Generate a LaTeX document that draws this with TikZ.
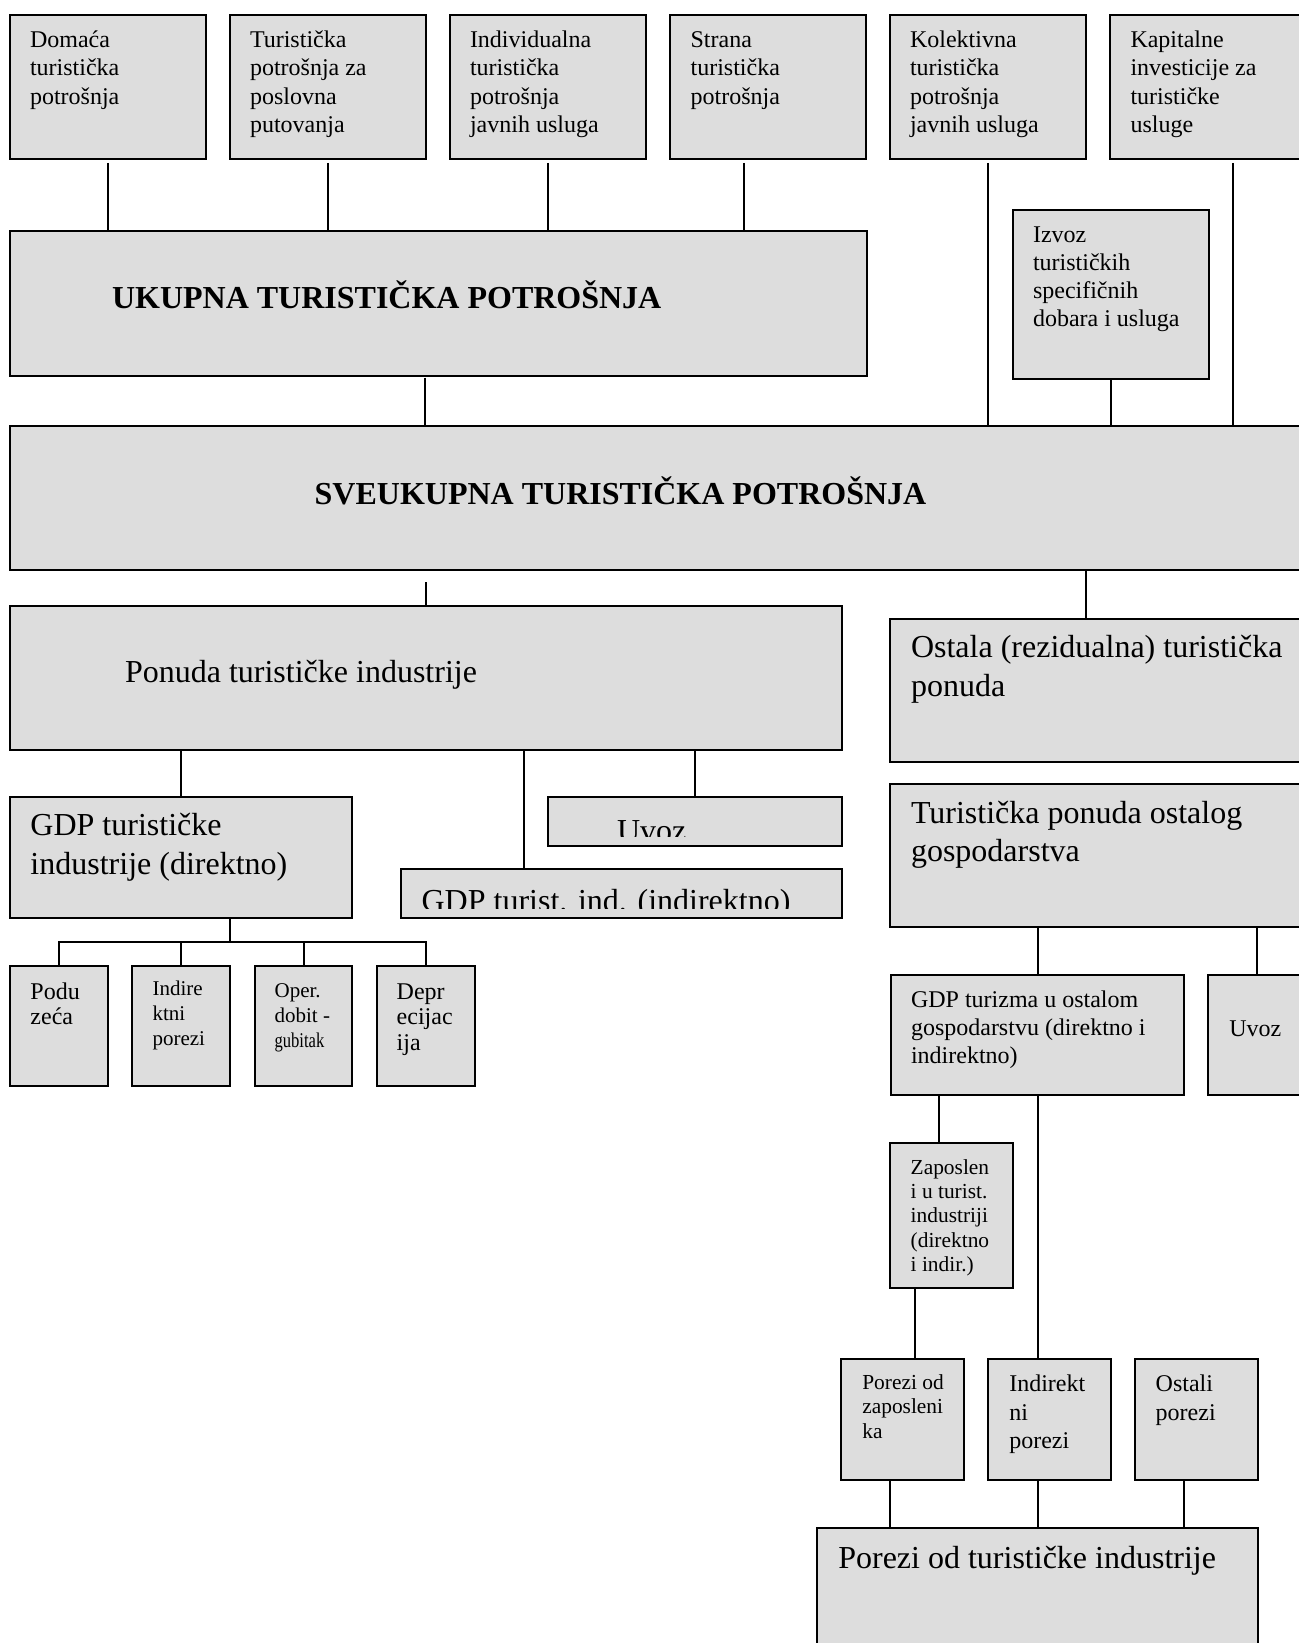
\documentclass[tikz,border=0pt]{standalone}
\usepackage{fontspec}
\setmainfont{Liberation Serif}
\usepackage{graphicx}
\usetikzlibrary{fit,calc}
\definecolor{boxgray}{RGB}{221,221,221}
\newcommand\mlines[1]{\vtop{\let\\\cr\halign{##\hfil\cr#1\crcr}}}
\newcommand\fA{\fontsize{12}{14.15}\selectfont}
\newcommand\fB{\bfseries\fontsize{16}{19}\selectfont}
\newcommand\fC{\fontsize{16}{19.3}\selectfont}
\tikzset{
  bx/.style={draw=black, line width=1pt, fill=boxgray, inner sep=0pt, outer sep=0pt},
  ln/.style={draw=black, line width=1pt},
  txt/.style={anchor=base west, inner sep=0pt, outer sep=0pt, text=black}
}
\begin{document}
\begin{tikzpicture}[x=0.5pt, y=-0.5pt]
\fill[white] (0,0) rectangle (1299,1643);
\clip (0,0) rectangle (1299,1643);
% ---------- boxes ----------
\node[bx, fit={(10,14.7) (206,159.3)}] (t1) {};
\node[bx, fit={(230,14.7) (426,159.3)}] (t2) {};
\node[bx, fit={(450,14.7) (646,159.3)}] (t3) {};
\node[bx, fit={(670,14.7) (866,159.3)}] (t4) {};
\node[bx, fit={(890,14.7) (1086,159.3)}] (t5) {};
\node[bx, fit={(1110,14.7) (1320,159.3)}] (t6) {};
\node[bx, fit={(10,230.7) (866.5,375.7)}] (uk) {};
\node[bx, fit={(1012.6,210) (1208.8,378.7)}] (iz) {};
\node[bx, fit={(10,426) (1320,570)}] (sv) {};
\node[bx, fit={(10,605.8) (841.6,749.8)}] (po) {};
\node[bx, fit={(10,797.3) (352.3,918.2)}] (gd) {};
\node[bx, fit={(548,797.3) (841.6,845.9)}] (uv) {};
\node[bx, fit={(401,869.3) (841.6,918.2)}] (gi) {};
\node[bx, fit={(10,965.7) (107.6,1085.9)}] (s1) {};
\node[bx, fit={(132,965.7) (230,1085.9)}] (s2) {};
\node[bx, fit={(254.7,965.7) (352.3,1085.9)}] (s3) {};
\node[bx, fit={(376.7,965.7) (475,1085.9)}] (s4) {};
\node[bx, fit={(890,618.6) (1320,762.3)}] (os) {};
\node[bx, fit={(890,783.5) (1320,927.4)}] (tp) {};
\node[bx, fit={(890.7,975.2) (1184.3,1095)}] (gt) {};
\node[bx, fit={(1208.3,975.2) (1320,1095)}] (uv2) {};
\node[bx, fit={(890,1143.3) (1013.3,1287.7)}] (za) {};
\node[bx, fit={(841,1359.3) (964,1480)}] (p1) {};
\node[bx, fit={(988.3,1359.3) (1111,1480)}] (p2) {};
\node[bx, fit={(1135,1359.3) (1257.7,1480)}] (p3) {};
\node[bx, fit={(817,1527.5) (1257.5,1680)}] (pt) {};
% ---------- connectors ----------
\draw[ln, shorten <=1.8pt] (t1.south) -- (t1.south |- uk.north);
\draw[ln, shorten <=1.8pt] (t2.south) -- (t2.south |- uk.north);
\draw[ln, shorten <=1.8pt] (t3.south) -- (t3.south |- uk.north);
\coordinate (c4) at ($(t4.south west)+(74,0)$);
\draw[ln, shorten <=1.8pt] (c4) -- (c4 |- uk.north);
\draw[ln, shorten <=1.8pt] (t5.south) -- (t5.south |- sv.north);
\coordinate (c6) at ($(t6.south west)+(123,0)$);
\draw[ln, shorten <=1.8pt] (c6) -- (c6 |- sv.north);
\coordinate (cu) at ($(uk.south west)+(415,0)$);
\draw[ln, shorten <=1pt] (cu) -- (cu |- sv.north);
\draw[ln] (iz.south) -- (iz.south |- sv.north);
\coordinate (cp) at ($(po.north west)+(416,0)$);
\draw[ln, shorten <=6pt] (cp |- sv.south) -- (cp);
\coordinate (co) at ($(os.north west)+(196,0)$);
\draw[ln] (co |- sv.south) -- (co);
\draw[ln] (gd.north |- po.south) -- (gd.north);
\coordinate (cgi) at ($(gi.north west)+(122.7,0)$);
\draw[ln] (cgi |- po.south) -- (cgi);
\draw[ln] (uv.north |- po.south) -- (uv.north);
\coordinate (bar) at (230,941.6);
\draw[ln] (gd.south -| bar) -- (bar);
\draw[ln] (s1.north) |- (s4.north |- bar) -- (s4.north);
\draw[ln] (s2.north) -- (s2.north |- bar);
\draw[ln] (s3.north) -- (s3.north |- bar);
\draw[ln] (gt.north |- tp.south) -- (gt.north);
\coordinate (cu2) at ($(uv2.north west)+(49,0)$);
\draw[ln] (cu2 |- tp.south) -- (cu2);
\coordinate (cz) at ($(gt.south west)+(48.6,0)$);
\draw[ln] (cz) -- (cz |- za.north);
\draw[ln] (gt.south) -- (gt.south |- p2.north);
\coordinate (cz2) at ($(za.south west)+(25,0)$);
\draw[ln] (cz2) -- (cz2 |- p1.north);
\coordinate (q1) at ($(p1.south west)+(49.3,0)$);
\draw[ln] (q1) -- (q1 |- pt.north);
\coordinate (q2) at ($(p2.south west)+(49.4,0)$);
\draw[ln] (q2) -- (q2 |- pt.north);
\coordinate (q3) at ($(p3.south west)+(49,0)$);
\draw[ln] (q3) -- (q3 |- pt.north);
% ---------- texts ----------
\node[txt] (lt1) at (30,47.7) {\fA\mlines{Domaća\\turistička\\potrošnja}};
\node[txt] (lt2) at (250,47.7) {\fA\mlines{Turistička\\potrošnja za\\poslovna\\putovanja}};
\node[txt] (lt3) at (470,47.7) {\fA\mlines{Individualna\\turistička\\potrošnja\\javnih usluga}};
\node[txt] (lt4) at (690.6,47.7) {\fA\mlines{Strana\\turistička\\potrošnja}};
\node[txt] (lt5) at (910,47.7) {\fA\mlines{Kolektivna\\turistička\\potrošnja\\javnih usluga}};
\node[txt] (lt6) at (1130.5,47.7) {\fA\mlines{Kapitalne\\investicije za\\turističke\\usluge}};
\node[txt] (liz) at (1033,242.3) {\fontsize{12}{14}\selectfont\mlines{Izvoz\\turističkih\\specifičnih\\dobara i usluga}};
\node[txt] (luk) at (112,308) {\fB UKUPNA TURISTIČKA POTROŠNJA};
\node[txt] (lsv) at (314.7,504.3) {\fB SVEUKUPNA TURISTIČKA POTROŠNJA};
\node[txt] (lpo) at (125,682.3) {\fC Ponuda turističke industrije};
\node[txt] (lgd) at (30.5,835.5) {\fC\mlines{GDP turističke\\industrije (direktno)}};
\begin{scope}
\clip (548,797.3) rectangle (841.6,836);
\node[txt] (luv) at (617,841) {\fC Uvoz};
\end{scope}
\begin{scope}
\clip (401,869.3) rectangle (841.6,908);
\node[txt] (lgi) at (421.6,911.2) {\fC GDP turist. ind. (indirektno)};
\end{scope}
\node[txt] (ls1) at (30.5,999.1) {\fontsize{12}{12.9}\selectfont\mlines{Podu\\zeća}};
\node[txt] (ls2) at (152.6,995.8) {\fontsize{10.5}{12.3}\selectfont\mlines{Indire\\ktni\\porezi}};
\node[txt] (ls3) at (274.6,997.4) {\fontsize{10.5}{12.4}\selectfont\mlines{Oper.\\dobit -\\\scalebox{0.79}[1]{gubitak}}};
\node[txt] (ls4) at (396.7,999.1) {\fontsize{12}{12.9}\selectfont\mlines{Depr\\ecijac\\ija}};
\node[txt] (los) at (911,657.6) {\fontsize{16}{19.5}\selectfont\mlines{Ostala (rezidualna) turistička\\ponuda}};
\node[txt] (ltp) at (911,823.3) {\fontsize{16}{19}\selectfont\mlines{Turistička ponuda ostalog\\gospodarstva}};
\node[txt] (lgt) at (911,1007.8) {\fontsize{12}{13.9}\selectfont\mlines{GDP turizma u ostalom\\gospodarstvu (direktno i\\indirektno)}};
\node[txt] (luv2) at (1229.3,1036.5) {\fontsize{12}{14}\selectfont Uvoz};
\node[txt] (lza) at (910.7,1174) {\fontsize{10.7}{12.2}\selectfont\mlines{Zaposlen\\i u turist.\\industriji\\(direktno\\i indir.)}};
\node[txt] (lp1) at (862.3,1389.3) {\fontsize{10.7}{12.25}\selectfont\mlines{Porezi od\\zaposleni\\ka}};
\node[txt] (lp2) at (1009.3,1391.7) {\fontsize{12}{14.15}\selectfont\mlines{Indirekt\\ni\\porezi}};
\node[txt] (lp3) at (1155.7,1391.7) {\fontsize{12}{14.15}\selectfont\mlines{Ostali\\porezi}};
\node[txt] (lpt) at (838.3,1568.3) {\fontsize{16}{19}\selectfont Porezi od turističke industrije};
\end{tikzpicture}
\end{document}
